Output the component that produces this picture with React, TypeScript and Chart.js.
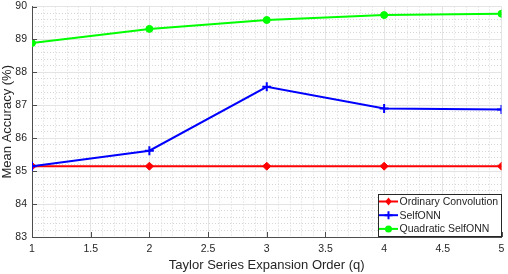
import React, { useEffect, useRef } from 'react';
import { Chart, registerables } from 'chart.js';

Chart.register(...registerables);

const orders = [1, 2, 3, 4, 5];
const ordinaryConvolution = [85.15, 85.15, 85.15, 85.15, 85.15];
const selfONN = [85.15, 85.62, 87.56, 86.9, 86.87];
const quadraticSelfONN = [88.89, 89.32, 89.59, 89.74, 89.78];
const seriesNames = ['Ordinary Convolution', 'SelfONN', 'Quadratic SelfONN'];
const xRange = [1, 5];
const yRange = [83, 90];

const FONT = "'Liberation Sans', Arial, Helvetica, sans-serif";
const TEXT = '#262626';
const AXIS = '#4d4d4d';
const MAJOR = '#e4e4e4';
const MINOR = '#d6d6d6';

function drawMarker(ctx: CanvasRenderingContext2D, style: string, x: number, y: number, color: string) {
  ctx.save();
  ctx.fillStyle = color;
  ctx.strokeStyle = color;
  ctx.lineWidth = 2;
  ctx.beginPath();
  if (style === 'rectRot') {
    const r = 4;
    ctx.moveTo(x, y - r);
    ctx.lineTo(x + r * 0.8, y);
    ctx.lineTo(x, y + r);
    ctx.lineTo(x - r * 0.8, y);
    ctx.closePath();
    ctx.fill();
  } else if (style === 'cross') {
    const r = 4;
    ctx.moveTo(x - r, y);
    ctx.lineTo(x + r, y);
    ctx.moveTo(x, y - r);
    ctx.lineTo(x, y + r);
    ctx.stroke();
  } else {
    ctx.arc(x, y, 3.5, 0, Math.PI * 2);
    ctx.fill();
  }
  ctx.restore();
}

const boxLegend = {
  id: 'boxLegend',
  afterDraw(chart: any) {
    const { ctx, chartArea } = chart;
    const w = 124;
    const h = 43;
    const x0 = Math.round(chartArea.right - w);
    const y0 = Math.round(chartArea.bottom - h);
    ctx.save();
    ctx.fillStyle = '#ffffff';
    ctx.fillRect(x0, y0, w, h);
    ctx.strokeStyle = TEXT;
    ctx.lineWidth = 1;
    ctx.strokeRect(x0 + 0.5, y0 + 0.5, w - 1, h - 1);
    chart.data.datasets.forEach((ds: any, i: number) => {
      const cy = y0 + 7.5 + i * 13.7;
      ctx.strokeStyle = ds.borderColor;
      ctx.lineWidth = 2;
      ctx.beginPath();
      ctx.moveTo(x0 + 1, cy);
      ctx.lineTo(x0 + 20, cy);
      ctx.stroke();
      drawMarker(ctx, ds.pointStyle, x0 + 10.5, cy, ds.borderColor);
      ctx.fillStyle = TEXT;
      ctx.font = `10.5px ${FONT}`;
      ctx.textAlign = 'left';
      ctx.textBaseline = 'middle';
      ctx.fillText(ds.label, x0 + 21.5, cy + 0.5);
    });
    ctx.restore();
  },
};

const inwardTicks = {
  id: 'inwardTicks',
  afterDatasetsDraw(chart: any) {
    const { ctx, chartArea, scales } = chart;
    ctx.save();
    ctx.strokeStyle = AXIS;
    ctx.lineWidth = 1;
    ctx.beginPath();
    scales.x.ticks.forEach((t: any) => {
      const px = Math.round(scales.x.getPixelForValue(t.value)) + 0.5;
      ctx.moveTo(px, chartArea.bottom);
      ctx.lineTo(px, chartArea.bottom - 5);
    });
    scales.y.ticks.forEach((t: any) => {
      const py = Math.round(scales.y.getPixelForValue(t.value)) + 0.5;
      ctx.moveTo(chartArea.left, py);
      ctx.lineTo(chartArea.left + 5, py);
    });
    ctx.stroke();
    ctx.restore();
  },
};

const isMajor = (v: number, step: number) => Math.abs(v / step - Math.round(v / step)) < 1e-6;

const noPadX = (s: any, h: number) => {
  s.height = h;
  s.paddingLeft = 0;
  s.paddingRight = 0;
};
const noPadY = (s: any, w: number) => {
  s.width = w;
  s.paddingTop = 0;
  s.paddingBottom = 0;
};

export default function App() {
  const ref = useRef<HTMLCanvasElement>(null);
  useEffect(() => {
    if (!ref.current) return;
    const mk = (vals: number[]) => orders.map((x, i) => ({ x, y: vals[i] }));
    const chart = new Chart(ref.current, {
      type: 'line',
      data: {
        datasets: [
          {
            label: seriesNames[0],
            data: mk(ordinaryConvolution),
            borderColor: '#ff0000',
            backgroundColor: '#ff0000',
            borderWidth: 2,
            pointStyle: 'rectRot',
            pointRadius: 4,
            pointBorderWidth: 1,
            order: 3,
          },
          {
            label: seriesNames[1],
            data: mk(selfONN),
            borderColor: '#0000ff',
            backgroundColor: '#0000ff',
            borderWidth: 2,
            pointStyle: 'cross',
            pointRadius: 4.5,
            pointBorderWidth: 2,
            order: 2,
          },
          {
            label: seriesNames[2],
            data: mk(quadraticSelfONN),
            borderColor: '#00ff00',
            backgroundColor: '#00ff00',
            borderWidth: 2,
            pointStyle: 'circle',
            pointRadius: 3.5,
            pointBorderWidth: 1,
            order: 1,
          },
        ],
      },
      options: {
        responsive: false,
        animation: false,
        layout: { padding: { top: 4, right: 4, left: 0, bottom: 0 } },
        plugins: { legend: { display: false }, tooltip: { enabled: false } },
        elements: { line: { tension: 0 } },
        scales: {
          x: {
            type: 'linear',
            position: 'bottom',
            min: xRange[0],
            max: xRange[1],
            ticks: {
              stepSize: 0.5,
              autoSkip: false,
              maxRotation: 0,
              padding: 6,
              color: TEXT,
              font: { family: FONT, size: 10.5 },
              callback: (v: any) => String(v),
            },
            grid: { color: MAJOR, drawTicks: false, lineWidth: 1 },
            border: { display: true, color: AXIS, width: 1 },
            title: {
              display: true,
              text: 'Taylor Series Expansion Order (q)',
              color: TEXT,
              font: { family: FONT, size: 13 },
              padding: { top: 0, bottom: 1 },
            },
            afterFit: (s: any) => noPadX(s, 37),
          },
          xMinor: {
            type: 'linear',
            position: 'bottom',
            min: xRange[0],
            max: xRange[1],
            ticks: { display: false, stepSize: 0.1, autoSkip: false },
            grid: {
              color: (c: any) => (isMajor(c.tick.value, 0.5) ? 'rgba(0,0,0,0)' : MINOR),
              drawTicks: false,
              lineWidth: 1,
            },
            border: { display: false, dash: [1, 2] },
            afterFit: (s: any) => noPadX(s, 0),
          },
          y: {
            type: 'linear',
            position: 'left',
            min: yRange[0],
            max: yRange[1],
            ticks: {
              stepSize: 1,
              padding: 5,
              color: TEXT,
              font: { family: FONT, size: 10.5 },
            },
            grid: { color: MAJOR, drawTicks: false, lineWidth: 1 },
            border: { display: true, color: AXIS, width: 1 },
            title: {
              display: true,
              text: 'Mean Accuracy (%)',
              color: TEXT,
              font: { family: FONT, size: 13 },
              padding: { top: 0, bottom: 0 },
            },
            afterFit: (s: any) => noPadY(s, 32),
          },
          yMinor: {
            type: 'linear',
            position: 'left',
            min: yRange[0],
            max: yRange[1],
            ticks: { display: false, stepSize: 0.2, autoSkip: false },
            grid: {
              color: (c: any) => (isMajor(c.tick.value, 1) ? 'rgba(0,0,0,0)' : MINOR),
              drawTicks: false,
              lineWidth: 1,
            },
            border: { display: false, dash: [1, 2] },
            afterFit: (s: any) => noPadY(s, 0),
          },
        },
      } as any,
      plugins: [inwardTicks, boxLegend],
    });
    return () => chart.destroy();
  }, []);
  return (
    <div style={{ position: 'fixed', left: 0, top: 0, width: 508, height: 274, background: '#fff' }}>
      <canvas ref={ref} width={508} height={274} style={{ display: 'block' }} />
    </div>
  );
}
